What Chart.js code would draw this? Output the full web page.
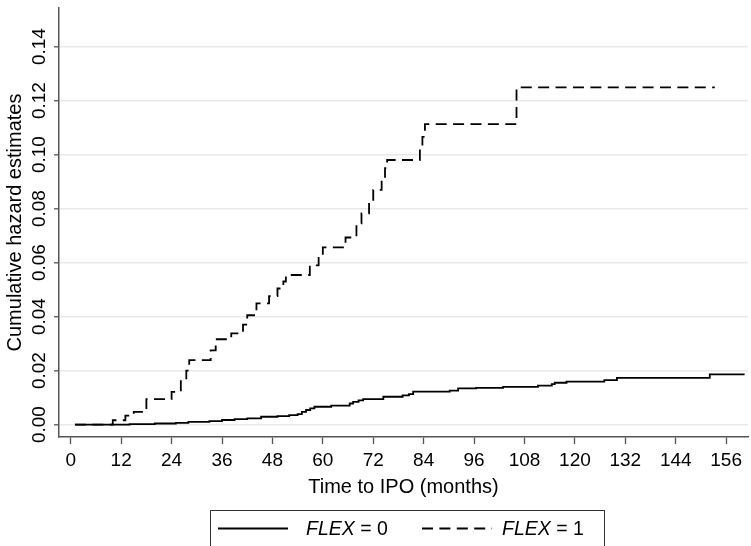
<!DOCTYPE html>
<html>
<head>
<meta charset="utf-8">
<script src="https://cdn.jsdelivr.net/npm/chart.js@4.4.1/dist/chart.umd.min.js"></script>
<style>
  html, body { margin: 0; padding: 0; background: #fff; }
</style>
</head>
<body>
<canvas id="chart" width="751" height="546"></canvas>
<script>
// cumulative hazard, FLEX = 0 (solid)
const flex0Months = [1, 14, 20, 25, 28, 33, 36, 39, 42, 45.3, 49.2, 52, 54, 55, 56, 57, 58, 62, 66.4, 67.2, 68.5, 69.6, 74.4, 79, 80.5, 81.5, 90.2, 92.2, 96.5, 102.9, 111.2, 114.5, 115.2, 118, 127, 130, 152.1, 160.4];
const flex0Hazard = [0, 0.0002, 0.0004, 0.0006, 0.001, 0.0013, 0.0017, 0.002, 0.0023, 0.0029, 0.0031, 0.0035, 0.0039, 0.0047, 0.0054, 0.006, 0.0066, 0.007, 0.0078, 0.0084, 0.009, 0.0094, 0.0103, 0.0108, 0.0113, 0.0122, 0.0126, 0.0134, 0.0136, 0.014, 0.0144, 0.015, 0.0155, 0.0159, 0.0165, 0.0173, 0.0186, 0.0186];

// cumulative hazard, FLEX = 1 (dashed)
const flex1Months = [1, 10, 13, 15, 18, 24, 26.2, 27.5, 28.2, 33.3, 34.5, 38.2, 41, 42, 44.2, 47.2, 49.2, 50.6, 51.2, 56.9, 59, 60, 65.4, 68, 69.2, 71, 72, 74, 74.8, 75.3, 83.1, 83.7, 84.3, 106.1, 153.3];
const flex1Hazard = [0, 0.0016, 0.0033, 0.0047, 0.0094, 0.0121, 0.0165, 0.02, 0.0239, 0.0275, 0.0316, 0.0338, 0.037, 0.0405, 0.0449, 0.0476, 0.0504, 0.053, 0.0554, 0.059, 0.0621, 0.0656, 0.0693, 0.0745, 0.0782, 0.0825, 0.0869, 0.0905, 0.095, 0.098, 0.1025, 0.1066, 0.1113, 0.1249, 0.1249];

const xTicks = [0, 12, 24, 36, 48, 60, 72, 84, 96, 108, 120, 132, 144, 156];
const yTicks = [0, 0.02, 0.04, 0.06, 0.08, 0.1, 0.12, 0.14];
const legendItems = [
  { name: 'FLEX', rest: ' = 0', dash: [] },
  { name: 'FLEX', rest: ' = 1', dash: [11, 6.4] },
];

const FONT = '"Liberation Sans", Arial, sans-serif';
const AXIS = '#555';

Chart.defaults.font.family = FONT;
Chart.defaults.font.size = 19;
Chart.defaults.color = '#000';

const toPoints = (xs, ys) => xs.map((x, i) => ({ x, y: ys[i] }));

// stata-like extras: rotated y tick labels and the boxed legend under the axis
const stataExtras = {
  id: 'stataExtras',
  afterDraw(chart) {
    const { ctx } = chart;
    const y = chart.scales.y;
    ctx.save();
    ctx.fillStyle = '#000';
    ctx.font = '19px ' + FONT;
    ctx.textAlign = 'center';
    ctx.textBaseline = 'alphabetic';
    yTicks.forEach((v) => {
      ctx.save();
      ctx.translate(45, y.getPixelForValue(v));
      ctx.rotate(-Math.PI / 2);
      ctx.fillText(v.toFixed(2), 0, 0);
      ctx.restore();
    });

    // legend box
    ctx.strokeStyle = '#333';
    ctx.lineWidth = 1;
    ctx.strokeRect(210.5, 510.5, 394, 60);

    const sampleX = [218, 422];
    const textX = [306, 502];
    legendItems.forEach((item, i) => {
      ctx.beginPath();
      ctx.setLineDash(item.dash);
      ctx.strokeStyle = '#000';
      ctx.lineWidth = 1.8;
      ctx.moveTo(sampleX[i], 528.5);
      ctx.lineTo(sampleX[i] + 70, 528.5);
      ctx.stroke();
      ctx.setLineDash([]);

      ctx.textAlign = 'left';
      ctx.font = 'italic 19.5px ' + FONT;
      ctx.fillText(item.name, textX[i], 535);
      const w = ctx.measureText(item.name).width;
      ctx.font = '19.5px ' + FONT;
      ctx.fillText(item.rest, textX[i] + w, 535);
    });
    ctx.restore();
  },
};

new Chart(document.getElementById('chart'), {
  type: 'line',
  data: {
    datasets: [
      {
        label: 'FLEX = 0',
        data: toPoints(flex0Months, flex0Hazard),
        borderColor: '#000',
        borderWidth: 1.8,
        stepped: true,
        pointRadius: 0,
        fill: false,
      },
      {
        label: 'FLEX = 1',
        data: toPoints(flex1Months, flex1Hazard),
        borderColor: '#000',
        borderWidth: 1.8,
        borderDash: [11, 6.4],
        stepped: true,
        pointRadius: 0,
        fill: false,
      },
    ],
  },
  options: {
    responsive: false,
    animation: false,
    events: [],
    layout: { padding: { top: 8, right: 3, bottom: 45, left: 0 } },
    scales: {
      x: {
        type: 'linear',
        min: -2.8,
        max: 161.2,
        afterBuildTicks: (scale) => {
          scale.ticks = xTicks.map((value) => ({ value }));
        },
        afterFit: (scale) => {
          scale.height = 64;
        },
        ticks: {
          autoSkip: false,
          maxRotation: 0,
          padding: 5.5,
          color: '#000',
          callback: (value) => String(value),
        },
        grid: {
          drawOnChartArea: false,
          tickLength: 7,
          tickColor: AXIS,
          tickWidth: 1.3,
        },
        border: { color: AXIS, width: 1.5 },
        title: {
          display: true,
          text: 'Time to IPO (months)',
          color: '#000',
          font: { size: 20 },
          padding: { top: 0, bottom: 2 },
        },
      },
      y: {
        type: 'linear',
        min: -0.0046,
        max: 0.1543,
        afterBuildTicks: (scale) => {
          scale.ticks = yTicks.map((value) => ({ value }));
        },
        afterFit: (scale) => {
          scale.width = 59;
        },
        ticks: { display: false },
        grid: {
          color: '#e9e9e9',
          lineWidth: 1.6,
          tickLength: 5,
          tickColor: AXIS,
          tickWidth: 1.3,
        },
        border: { color: AXIS, width: 1.5 },
        title: {
          display: true,
          text: 'Cumulative hazard estimates',
          color: '#000',
          font: { size: 20 },
          padding: { top: 3, bottom: 0 },
        },
      },
    },
    plugins: {
      legend: { display: false },
      tooltip: { enabled: false },
    },
  },
  plugins: [stataExtras],
});
</script>
</body>
</html>
